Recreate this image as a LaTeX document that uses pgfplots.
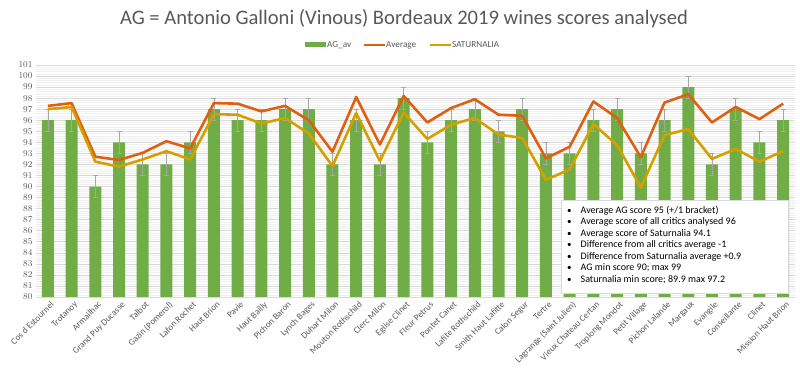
\documentclass[border=0pt]{standalone}
\usepackage{pgfplots}
\pgfplotsset{compat=1.18}
\usepackage{fontspec}
\setmainfont{Carlito}
\definecolor{agGreen}{HTML}{70AD47}
\definecolor{avgOrange}{HTML}{DE6010}
\definecolor{satGold}{HTML}{D4A000}
\definecolor{txtGray}{HTML}{595959}
\definecolor{gridMaj}{HTML}{D9D9D9}
\definecolor{gridMin}{HTML}{F0F0F0}
\begin{document}
\begin{tikzpicture}[x=1pt,y=1pt]
\useasboundingbox (0,0) rectangle (800,377);
\begin{axis}[
  at={(36pt,80pt)}, anchor=south west,
  scale only axis, width=759pt, height=232pt,
  xmin=-0.5, xmax=31.5, ymin=80, ymax=101,
  ytick={80,81,...,101},
  minor y tick num=4,
  ymajorgrids, yminorgrids,
  major grid style={gridMaj, line width=0.6pt},
  minor grid style={gridMin, line width=0.4pt},
  axis x line*=bottom, axis y line*=left,
  x axis line style={gridMaj, line width=0.8pt},
  y axis line style={draw=none},
  xtick={0,...,31},
  xtick style={draw=none},
  ytick style={draw=none},
  minor y tick style={draw=none},
  minor xtick={-0.5,0.5,...,31.5},
  minor x tick style={gridMaj, line width=0.8pt},
  tick align=outside,
  minor tick length=5pt,
  major tick length=0pt,
  xticklabels={Cos d Estournel,Trotanoy,Armailhac,Grand Puy Ducasse,Talbot,Gazin (Pomerol),Lafon Rochet,Haut Brion,Pavie,Haut Bailly,Pichon Baron,Lynch Bages,Duhart Milon,Mouton Rothschild,Clerc Milon,Eglise Clinet,Fleur Petrus,Pontet Canet,Lafite Rothschild,Smith Haut Lafitte,Calon Segur,Tertre,Lagrange (Saint Julien),Vieux Chateau Certan,Troplong Mondot,Petit Village,Pichon Lalande,Margaux,Evangile,Conseillante,Clinet,Mission Haut Brion},
  xticklabel style={rotate=45, anchor=north east, font=\fontsize{9}{10}\selectfont, text=txtGray, inner sep=1pt, yshift=-3pt},
  yticklabel style={font=\fontsize{9}{10}\selectfont, text=txtGray},
]
\addplot[ybar, bar width=12pt, fill=agGreen, draw=none,
  error bars/.cd, y dir=both, y fixed=1,
  error bar style={gray!70, line width=0.6pt},
  error mark options={rotate=90, gray!70, mark size=2.5pt, line width=0.6pt}]
  coordinates {(0,96)(1,96)(2,90)(3,94)(4,92)(5,92)(6,94)(7,97)(8,96)(9,96)(10,97)(11,97)(12,92)(13,96)(14,92)(15,98)(16,94)(17,96)(18,97)(19,95)(20,97)(21,93)(22,93)(23,96)(24,97)(25,93)(26,96)(27,99)(28,92)(29,97)(30,94)(31,96)};
\addplot[avgOrange, line width=2.6pt, line join=round, mark=none]
  coordinates {(0,97.3)(1,97.55)(2,92.7)(3,92.4)(4,93.05)(5,94.1)(6,93.45)(7,97.55)(8,97.5)(9,96.8)(10,97.3)(11,96.0)(12,93.15)(13,98.1)(14,93.8)(15,98.2)(16,95.8)(17,97.1)(18,97.9)(19,96.5)(20,96.4)(21,92.55)(22,93.6)(23,97.7)(24,96.2)(25,92.65)(26,97.6)(27,98.35)(28,95.8)(29,97.2)(30,96.1)(31,97.5)};
\addplot[satGold, line width=2.6pt, line join=round, mark=none]
  coordinates {(0,97.0)(1,97.2)(2,92.25)(3,91.8)(4,92.45)(5,93.2)(6,92.45)(7,96.55)(8,96.5)(9,95.7)(10,96.2)(11,94.8)(12,91.85)(13,96.65)(14,92.3)(15,96.7)(16,94.3)(17,95.6)(18,96.2)(19,94.7)(20,94.4)(21,90.6)(22,91.55)(23,95.65)(24,93.75)(25,89.9)(26,94.65)(27,95.2)(28,92.5)(29,93.4)(30,92.25)(31,93.2)};
\end{axis}
% legend
\begin{scope}[font=\fontsize{9.2}{10}\selectfont, text=txtGray]
\fill[agGreen] (305,330) rectangle (326,334.5);
\node[anchor=west, inner sep=0] at (327,332) {AG\_av};
\draw[avgOrange, line width=2.5pt] (364,332) -- (385,332);
\node[anchor=west, inner sep=0] at (386,332) {Average};
\draw[satGold, line width=2.5pt] (430,332) -- (451,332);
\node[anchor=west, inner sep=0] at (452,332) {SATURNALIA};
\end{scope}
\node[font=\fontsize{20.6}{23}\selectfont, text=txtGray] at (404,358) {AG = Antonio Galloni (Vinous) Bordeaux 2019 wines scores analysed};
\node[draw=gridMaj, line width=0.8pt, fill=white, anchor=north west, minimum width=227pt, minimum height=93pt, inner sep=0] at (561,177) {};
\node[anchor=north west, inner sep=0, text=black, font=\fontsize{10}{11.5}\selectfont] at (567,172) {%
\begin{tabular}{@{}l@{\hspace{9pt}}l@{}}
{\small\textbullet} & Average AG score 95 (+/1 bracket)\\
{\small\textbullet} & Average score of all critics analysed 96\\
{\small\textbullet} & Average score of Saturnalia 94.1\\
{\small\textbullet} & Difference from all critics average -1\\
{\small\textbullet} & Difference from Saturnalia average +0.9\\
{\small\textbullet} & AG min score 90; max 99\\
{\small\textbullet} & Saturnalia min score; 89.9 max 97.2
\end{tabular}};
\end{tikzpicture}
\end{document}
